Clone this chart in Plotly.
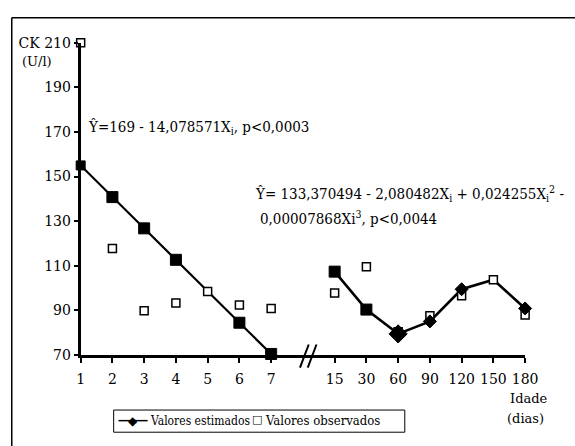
import plotly.graph_objects as go

# ---- data ----
categories = ["1", "2", "3", "4", "5", "6", "7", " ", "15", "30", "60", "90", "120", "150", "180"]
days_a = ["1", "2", "3", "4", "5", "6", "7"]
days_b = ["15", "30", "60", "90", "120", "150", "180"]
est_a = [155.0, 140.8, 126.8, 112.7, 98.6, 84.5, 70.5]
obs_a = [210.0, 117.8, 89.9, 93.3, 98.5, 92.5, 90.9]
est_b = [107.4, 90.4, 79.5, 85.1, 99.5, 103.8, 90.9]
obs_b = [97.8, 109.6, 80.5, 87.6, 96.6, 103.8, 88.0]
y_ticks = [70, 90, 110, 130, 150, 170, 190, 210]
y_ticktext = ["70", "90", "110", "130", "150", "170", "190", "CK 210"]
legend_names = ["Valores estimados", "Valores observados"]

W, H = 575, 446
def px(x):
    return x / W
def py(y):
    return 1 - y / H

FONT = "DejaVu Serif"
FONT_C = "DejaVu Serif Condensed, DejaVu Serif"
fig = go.Figure()

# estimated lines
for xs, ys, w in [(days_a, est_a, 2.2), (days_b, est_b, 2.6)]:
    fig.add_trace(go.Scatter(x=xs, y=ys, mode="lines", line=dict(color="black", width=w),
                             showlegend=False, cliponaxis=False, hoverinfo="skip"))
# observed markers
for xs, ys in [(days_a, obs_a), (days_b, obs_b)]:
    fig.add_trace(go.Scatter(x=xs, y=ys, mode="markers",
                             marker=dict(symbol="square", size=8, color="white", opacity=1,
                                         line=dict(color="black", width=1.5)),
                             showlegend=False, cliponaxis=False))
# estimated markers
fig.add_trace(go.Scatter(x=days_a, y=est_a, mode="markers",
                         marker=dict(symbol="square", size=[9, 11, 11, 11, 0, 11, 11], color="black",
                                     opacity=1, line=dict(color="black", width=1)),
                         showlegend=False, cliponaxis=False))
fig.add_trace(go.Scatter(x=days_b, y=est_b, mode="markers",
                         marker=dict(symbol=["square", "square", "diamond", "diamond", "diamond", "diamond", "diamond"],
                                     size=[11, 11, 14, 10, 10, 0, 10], color="black", opacity=1,
                                     line=dict(color="black", width=1)),
                         showlegend=False, cliponaxis=False))

fig.update_layout(
    width=W, height=H, margin=dict(l=0, r=0, t=0, b=0),
    paper_bgcolor="white", plot_bgcolor="white",
    font=dict(family=FONT, size=14, color="black"),
    showlegend=False,
    xaxis=dict(domain=[px(79), px(537)], type="category", categoryorder="array",
               categoryarray=categories, range=[0, 14],
               tickvals=[c for c in categories if c.strip()],
               showline=True, linewidth=3, linecolor="black",
               ticks="outside", ticklen=5, tickwidth=2, tickcolor="black",
               ticklabelstandoff=4,
               showgrid=False, zeroline=False, fixedrange=True),
    yaxis=dict(domain=[py(360), py(36)], range=[70, 210],
               tickvals=y_ticks, ticktext=y_ticktext,
               showline=True, linewidth=3, linecolor="black",
               ticks="outside", ticklen=4, tickwidth=2, tickcolor="black",
               showgrid=False, zeroline=False, fixedrange=True),
)

ann = [
    dict(x=px(84), y=py(124), text="Ŷ=169 - 14,078571X<sub>i</sub>, p&lt;0,0003", font=dict(size=15, family=FONT_C)),
    dict(x=px(257), y=py(192), text="Ŷ= 133,370494 - 2,080482X<sub>i</sub> + 0,024255X<sub>i</sub><sup>2</sup> -",
         font=dict(size=15, family=FONT_C)),
    dict(x=px(262), y=py(218), text="0,00007868Xi<sup>3</sup>, p&lt;0,0044", font=dict(size=15, family=FONT_C)),
    dict(x=px(17), y=py(56), text="(U/l)", font=dict(size=13)),
    dict(x=px(519), y=py(405), text="Idade", font=dict(size=13)),
    dict(x=px(516), y=py(426), text="(dias)", font=dict(size=13)),
]
for a in ann:
    fig.add_annotation(xref="paper", yref="paper", xanchor="left", yanchor="middle",
                       showarrow=False, **a)

# manual legend
fig.add_shape(type="rect", xref="paper", yref="paper", x0=px(113), y0=py(440), x1=px(413), y1=py(417),
              line=dict(color="black", width=1), fillcolor="white", layer="above")
fig.add_shape(type="line", xref="paper", yref="paper", x0=px(118), y0=py(428), x1=px(148), y1=py(428),
              line=dict(color="black", width=1.5), layer="above")
fig.add_annotation(xref="paper", yref="paper", x=px(133), y=py(428), text="◆", showarrow=False,
                   xanchor="center", yanchor="middle", font=dict(size=12, family="DejaVu Sans"))
fig.add_annotation(xref="paper", yref="paper", x=px(148), y=py(428), text=legend_names[0], showarrow=False,
                   xanchor="left", yanchor="middle", font=dict(size=12, family=FONT_C))
fig.add_annotation(xref="paper", yref="paper", x=px(261), y=py(427), text="□", showarrow=False,
                   xanchor="center", yanchor="middle", font=dict(size=11, family="DejaVu Sans"))
fig.add_annotation(xref="paper", yref="paper", x=px(267), y=py(428), text=legend_names[1], showarrow=False,
                   xanchor="left", yanchor="middle", font=dict(size=13, family=FONT_C))

# outer frame (top and left edges) and axis break mark
fig.add_shape(type="line", xref="paper", yref="paper", x0=px(8), y0=py(10), x1=1.05, y1=py(10),
              line=dict(color="black", width=1.5))
fig.add_shape(type="line", xref="paper", yref="paper", x0=px(8), y0=py(10), x1=px(8), y1=-0.05,
              line=dict(color="black", width=1.5))
for x0 in (305, 313):
    fig.add_shape(type="line", xref="paper", yref="paper", x0=px(x0), y0=py(373), x1=px(x0 + 9), y1=py(349),
                  line=dict(color="black", width=2))

fig.write_html("out.html")
